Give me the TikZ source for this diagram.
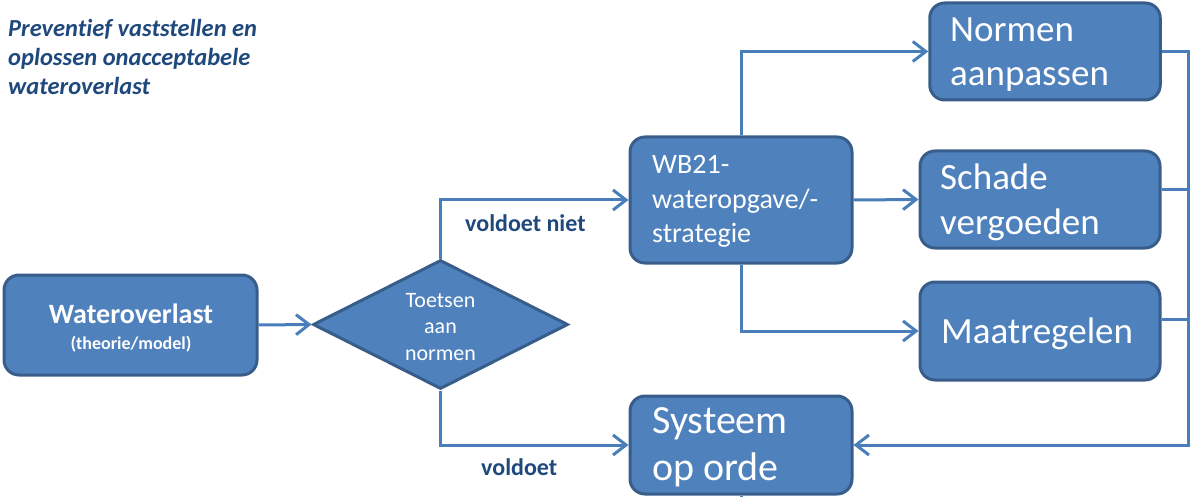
\documentclass[tikz,border=0pt]{standalone}
\usepackage{fontspec}
\setmainfont{Carlito}[Ligatures=NoCommon]
\usetikzlibrary{arrows.meta,shapes.geometric,calc}
\definecolor{boxfill}{HTML}{4F81BD}
\definecolor{boxline}{HTML}{385D8A}
\definecolor{connline}{HTML}{4A7EBB}
\definecolor{lblblue}{HTML}{1F497D}
\begin{document}
\begin{tikzpicture}[x=1pt,y=-1pt,
  box/.style={draw=boxline, fill=boxfill, line width=3pt, rounded corners=15pt, inner sep=0pt},
  diam/.style={diamond, draw=boxline, fill=boxfill, line width=3pt, inner sep=0pt},
  conn/.style={draw=connline, line width=3pt},
  arr/.style={conn, -{Straight Barb[length=13pt,width=20pt]}},
  wtext/.style={text=white, inner sep=0pt, align=left},
  lbl/.style={text=lblblue, inner sep=0pt, font=\bfseries\fontsize{24}{29}\selectfont}
]
\useasboundingbox (0,0) rectangle (1194,497);

% title (anchor = baseline of last line)
\node[text=lblblue, inner sep=0pt, align=left, anchor=base west,
      font=\bfseries\itshape\fontsize{24.5}{29}\selectfont] (title) at (8,95)
  {Prevent\kern0pt ief vaststellen en\\oplossen onacceptabele\\wateroverlast};

% boxes
\node[box, minimum width=253pt, minimum height=100pt] (wat) at (130.5,325) {};
\node[diam, minimum width=255pt, minimum height=129pt] (dia) at (440.5,324.5) {};
\node[box, minimum width=222pt, minimum height=126pt] (wb) at (741,200) {};
\node[box, minimum width=230.5pt, minimum height=97pt] (norm) at (1045,51.5) {};
\node[box, minimum width=240pt, minimum height=97pt] (schade) at (1040,199.5) {};
\node[box, minimum width=240pt, minimum height=98pt] (maat) at (1040,331) {};
\node[box, minimum width=222pt, minimum height=98pt] (sys) at (741,445) {};

% texts (anchor = baseline of last line)
\node[wtext, anchor=base, font=\bfseries\fontsize{28}{34}\selectfont] (watT) at (131,323) {Wateroverlast};
\node[wtext, anchor=base, font=\bfseries\fontsize{18}{22}\selectfont] (watS) at (131,349) {(theorie/model)};
\node[wtext, anchor=base, align=center, font=\fontsize{22}{26.5}\selectfont] (diaT) at (440.5,360) {Toetsen\\aan\\normen};
\node[wtext, anchor=base west, font=\fontsize{28}{34.5}\selectfont] (wbT) at (652,243) {WB21-\\wateropgave/-\\strategie};
\node[wtext, anchor=base west, font=\fontsize{37}{44}\selectfont] (normT) at (950,86) {Normen\\aanpassen};
\node[wtext, anchor=base west, font=\fontsize{37}{45}\selectfont] (schadeT) at (940,235) {Schade\\vergoeden};
\node[wtext, anchor=base west, font=\fontsize{37}{44}\selectfont] (maatT) at (941,343) {Maatregelen};
\node[wtext, anchor=base west, font=\fontsize{40}{47}\selectfont] (sysT) at (652,480) {Systeem\\op orde};

% labels
\node[lbl, anchor=base west] (vn) at (465,232) {voldoet niet};
\node[lbl, anchor=base west] (v) at (481,475) {voldoet};

% helper coordinates
\coordinate (rtop) at (1188,51.5);
\coordinate (rbot) at (1188,445);
\coordinate (bot) at (741,497);

% connectors
\draw[arr] (wat.east) -- (dia.west);
\draw[arr] (dia.north) |- (wb.west);
\draw[arr] (dia.south) |- (sys.west);
\draw[arr] (wb.north) |- (norm.west);
\draw[arr] (wb.east) -- (schade.west);
\draw[arr] (wb.south) |- (maat.west);
\draw[arr] (norm.east) -- (rtop) -- (rbot) -- (sys.east);
\draw[conn] ([yshift=9.5pt]schade.east) -- ++(28,0);
\draw[conn] ([yshift=12pt]maat.east) -- ++(28,0);
\draw[conn] (sys.south) -- (bot);
\end{tikzpicture}
\end{document}
